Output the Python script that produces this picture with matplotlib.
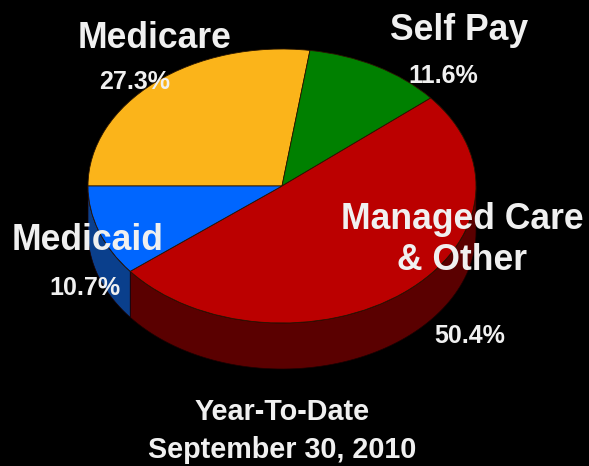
import matplotlib
matplotlib.use('Agg')
import matplotlib.pyplot as plt
import numpy as np

labels = ['Medicare', 'Self Pay', 'Managed Care\n& Other', 'Medicaid']
shares = [27.3, 11.6, 50.4, 10.7]
pct_labels = ['27.3%', '11.6%', '50.4%', '10.7%']
top_colors = ['#FBB41A', '#008000', '#BB0000', '#0066FF']
side_colors = ['#7d5a0b', '#004000', '#5A0000', '#0A3F8C']
caption = 'Year-To-Date\nSeptember 30, 2010'

W, H = 589, 466
cx, cy, rx, ry = 282, 186, 194, 137
depth = 46 / ry

plt.rcParams['font.family'] = ['Liberation Sans', 'DejaVu Sans']
fig = plt.figure(figsize=(W / 100, H / 100), dpi=100, facecolor='black')
ax = fig.add_axes([0, 0, 1, 1], facecolor='black')

wedges, _ = ax.pie(shares, colors=top_colors, startangle=180, counterclock=False,
                   radius=1, wedgeprops=dict(edgecolor='#2a1500', linewidth=0.6))
for w in wedges:
    w.set_zorder(3)

# side wall of the pie, only the part that faces the viewer
start = 180.0
for share, col in zip(shares, side_colors):
    end = start - share * 3.6
    if end < 0:
        t = np.radians(np.linspace(min(start, 0), end, 80))
        xs, ys = np.cos(t), np.sin(t)
        ax.fill(np.r_[xs, xs[::-1]], np.r_[ys, ys[::-1] - depth], facecolor=col,
                edgecolor='#1a0000', lw=0.5, zorder=2)
    start = end

ax.set_aspect('auto')
ax.set_xlim(-cx / rx, (W - cx) / rx)
ax.set_ylim(-(H - cy) / ry, cy / ry)
ax.axis('off')


def px(x, y):
    return (x - cx) / rx, (cy - y) / ry


name_pos = [(155, 39), (459, 30), (462, 240), (88, 241)]
pct_pos = [(135, 82), (443, 76), (470, 336), (85, 288)]
for name, p in zip(labels, name_pos):
    ax.text(*px(*p), name, color='#f0f0f0', fontsize=25.6, fontweight='bold',
            ha='center', va='center', zorder=5, linespacing=1.2)
for name, p in zip(pct_labels, pct_pos):
    ax.text(*px(*p), name, color='#f0f0f0', fontsize=18, fontweight='bold',
            ha='center', va='center', zorder=5)
ax.text(*px(282, 431), caption, color='#f0f0f0', fontsize=20.7, fontweight='bold',
        ha='center', va='center', zorder=5, linespacing=1.45)

fig.savefig('out.png', dpi=100, facecolor='black')
